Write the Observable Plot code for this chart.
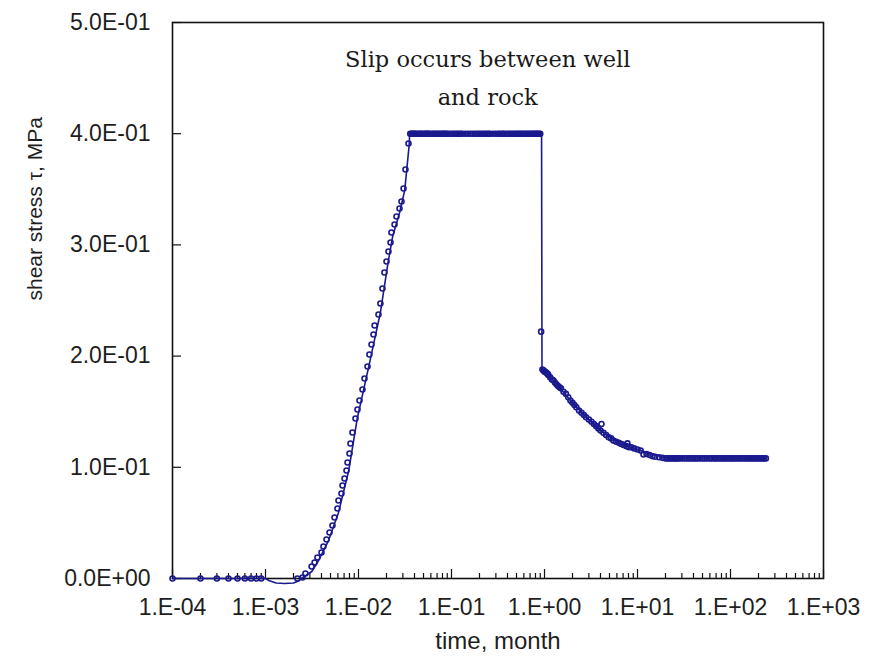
<!DOCTYPE html>
<html>
<head>
<meta charset="utf-8">
<script src="https://cdn.jsdelivr.net/npm/d3@7"></script>
<script src="https://cdn.jsdelivr.net/npm/@observablehq/plot@0.6"></script>
<style>
  html, body { margin: 0; padding: 0; background: #fff; }
</style>
</head>
<body>
<div id="chart"></div>
<script>
// Shear stress at the well/rock interface over time (months, log scale).

// Tick values and labels
const xTickValues = [1e-4, 1e-3, 1e-2, 1e-1, 1e0, 1e1, 1e2, 1e3];
const xTickLabels = ["1.E-04", "1.E-03", "1.E-02", "1.E-01", "1.E+00", "1.E+01", "1.E+02", "1.E+03"];
const yTickValues = [0, 0.1, 0.2, 0.3, 0.4, 0.5];
const yTickLabels = ["0.0E+00", "1.0E-01", "2.0E-01", "3.0E-01", "4.0E-01", "5.0E-01"];

// Solid curve
const lineTime = [1e-4, 1.0e-3, 1.1e-3, 1.3e-3, 1.6e-3, 2.0e-3, 2.3e-3, 2.42e-3, 3.15e-3, 3.72e-3,
  4.72e-3, 6.1e-3, 7.85e-3, 9.7e-3, 1.31e-2, 1.72e-2, 2.08e-2, 2.33e-2, 2.77e-2, 3.14e-2,
  3.5e-2, 3.55e-2, 0.93, 0.94, 1.25, 1.9, 2.9, 4.0, 6.56, 10.8, 21, 240];
const lineStress = [0, 0, -0.002, -0.004, -0.0045, -0.004, -0.002, 0, 0.0063, 0.0162,
  0.0333, 0.0594, 0.0971, 0.1439, 0.1933, 0.2392, 0.2842, 0.3076, 0.3291, 0.349,
  0.389, 0.4, 0.4, 0.188, 0.178, 0.160, 0.144, 0.133, 0.121, 0.115, 0.108, 0.108];

// Circles before slip (build-up of stress)
const riseTime = [1e-4, 2e-4, 3e-4, 4e-4, 5e-4, 6e-4, 7e-4, 8e-4, 9e-4, 2.2e-3,
  2.50e-3, 2.69e-3, 3.13e-3, 3.37e-3, 3.62e-3, 4.00e-3, 4.20e-3, 4.53e-3, 4.88e-3, 5.25e-3,
  5.52e-3, 5.94e-3, 6.09e-3, 6.56e-3, 6.73e-3, 7.07e-3, 7.43e-3, 7.62e-3, 8.00e-3, 8.20e-3,
  8.61e-3, 9.28e-3, 9.75e-3, 1.025e-2, 1.104e-2, 1.16e-2, 1.25e-2, 1.31e-2, 1.38e-2, 1.45e-2,
  1.49e-2, 1.64e-2, 1.72e-2, 1.81e-2, 1.90e-2, 2.00e-2, 2.10e-2, 2.21e-2, 2.26e-2, 2.44e-2,
  2.56e-2, 2.76e-2, 2.90e-2, 3.05e-2, 3.20e-2, 3.45e-2];
const riseStress = [0, 0, 0, 0, 0, 0, 0, 0, 0, 0,
  0.0009, 0.0045, 0.0108, 0.0144, 0.0189, 0.0234, 0.0288, 0.0351, 0.0414, 0.0477,
  0.0549, 0.0629, 0.0701, 0.0764, 0.0836, 0.0899, 0.0971, 0.1043, 0.1124, 0.1214,
  0.1313, 0.1439, 0.1520, 0.1601, 0.1700, 0.1799, 0.1906, 0.2014, 0.2104, 0.2194,
  0.2275, 0.2374, 0.2473, 0.2608, 0.2752, 0.2851, 0.2941, 0.3022, 0.3112, 0.3183,
  0.3255, 0.3327, 0.3390, 0.3507, 0.3678, 0.3912];

// Circles on the plateau (stress held at 0.4 MPa)
const plateauTime = [0.036, 0.037, 0.038, 0.039, 0.04, 0.041, 0.042, 0.044, 0.045, 0.047, 0.048,
  0.05, 0.052, 0.053, 0.055, 0.056, 0.058, 0.06, 0.063, 0.065, 0.067, 0.07, 0.072, 0.075,
  0.078, 0.08, 0.083, 0.085, 0.088, 0.09, 0.095, 0.1, 0.105, 0.11, 0.115, 0.12, 0.125, 0.13,
  0.14, 0.15, 0.16, 0.17, 0.18, 0.19, 0.2, 0.21, 0.22, 0.23, 0.24, 0.25, 0.26, 0.28, 0.3,
  0.32, 0.33, 0.35, 0.36, 0.38, 0.4, 0.42, 0.44, 0.46, 0.48, 0.5, 0.52, 0.54, 0.56, 0.58,
  0.6, 0.63, 0.65, 0.68, 0.7, 0.73, 0.75, 0.78, 0.8, 0.83, 0.85, 0.88, 0.9];
const plateauStress = 0.4;

// Circles after slip (relaxation)
const decayTime = [0.92, 0.95, 0.98, 1.0, 1.03, 1.05, 1.08, 1.1, 1.15, 1.2, 1.25, 1.3, 1.35, 1.4,
  1.45, 1.5, 1.6, 1.7, 1.8, 1.9, 2.0, 2.1, 2.2, 2.35, 2.5, 2.65, 2.8, 3.0, 3.2, 3.4, 3.6, 3.8,
  4.0, 4.1, 4.3, 4.6, 4.9, 5.2, 5.5, 5.9, 6.3, 6.7, 7.1, 7.6, 7.8, 8.1, 8.6, 9.2, 10, 10.8,
  11.6, 12.5, 13.5, 14.5, 15.5, 17, 18.5, 20];
const decayStress = [0.222, 0.188, 0.187, 0.186, 0.1855, 0.185, 0.184, 0.183, 0.181, 0.179,
  0.178, 0.176, 0.1745, 0.173, 0.172, 0.171, 0.168, 0.166, 0.163, 0.160, 0.158, 0.156, 0.154,
  0.151, 0.149, 0.147, 0.145, 0.143, 0.141, 0.139, 0.137, 0.135, 0.133, 0.139, 0.131, 0.129,
  0.127, 0.126, 0.124, 0.123, 0.122, 0.121, 0.120, 0.119, 0.1215, 0.118, 0.118, 0.117, 0.116,
  0.115, 0.1115, 0.112, 0.111, 0.110, 0.1095, 0.109, 0.1085, 0.108];

// Circles on the residual level
const tailTime = [21, 22, 23, 24, 25, 26, 27, 28, 30, 32, 34, 36, 38, 40, 42, 44, 47, 50, 53, 56,
  60, 63, 67, 70, 74, 78, 82, 86, 90, 95, 100, 105, 110, 116, 122, 128, 135, 142, 150, 157,
  165, 173, 182, 191, 200, 210, 220, 230, 240];
const tailStress = 0.108;

// Annotation
const noteText = "Slip occurs between well\nand rock";
const noteTime = 0.245;
const noteStress = 0.454;

const navy = "#1a1a8e";

const linePoints = lineTime.map((t, i) => ({t, s: lineStress[i]}));
const circlePoints = [
  ...riseTime.map((t, i) => ({t, s: riseStress[i]})),
  ...plateauTime.map(t => ({t, s: plateauStress})),
  ...decayTime.map((t, i) => ({t, s: decayStress[i]})),
  ...tailTime.map(t => ({t, s: tailStress}))
];

// minor ticks 2..9 in each decade
const xMinor = d3.range(-4, 3).flatMap(e => d3.range(2, 10).map(k => k * Math.pow(10, e)));

const chart = Plot.plot({
  width: 877,
  height: 662,
  marginLeft: 172,
  marginRight: 54,
  marginTop: 22,
  marginBottom: 84,
  x: {type: "log", domain: [1e-4, 1e3], axis: null},
  y: {domain: [0, 0.5], axis: null},
  style: {
    fontFamily: "'Liberation Sans', Arial, sans-serif",
    fontSize: "23px",
    color: "#1e1e1e",
    background: "white",
    overflow: "visible"
  },
  marks: [
    // inward ticks
    Plot.tickX(xMinor, {x: d => d, insetTop: 551, stroke: "#111", strokeWidth: 1.2}),
    Plot.tickX(xTickValues, {x: d => d, insetTop: 547, stroke: "#111", strokeWidth: 1.2}),
    Plot.tickY(yTickValues, {y: d => d, insetRight: 642, stroke: "#111", strokeWidth: 1.2}),
    Plot.frame({stroke: "#111", strokeWidth: 1.6}),
    // tick labels
    Plot.text(xTickValues, {x: d => d, text: xTickLabels, frameAnchor: "bottom", dy: 36}),
    Plot.text(yTickValues, {y: d => d, text: yTickLabels, frameAnchor: "left", textAnchor: "end", dx: -22}),
    // axis titles
    Plot.text(["time, month"], {text: d => d, frameAnchor: "bottom", dy: 70, fontSize: 24}),
    Plot.text(["shear stress \u03c4, MPa"], {text: d => d, frameAnchor: "left", dx: -137, rotate: -90, fontSize: 21}),
    // data
    Plot.line(linePoints, {x: "t", y: "s", stroke: navy, strokeWidth: 1.6}),
    Plot.dot(circlePoints, {x: "t", y: "s", r: 2.5, stroke: navy, strokeWidth: 1.6, fill: "none"}),
    // annotation
    Plot.text([noteText], {
      x: () => noteTime, y: () => noteStress, text: d => d,
      fontFamily: "'DejaVu Serif', serif", fontSize: 22.5, lineHeight: 1.68, fill: "#1a1a1a"
    })
  ]
});

document.getElementById("chart").appendChild(chart);
</script>
</body>
</html>
